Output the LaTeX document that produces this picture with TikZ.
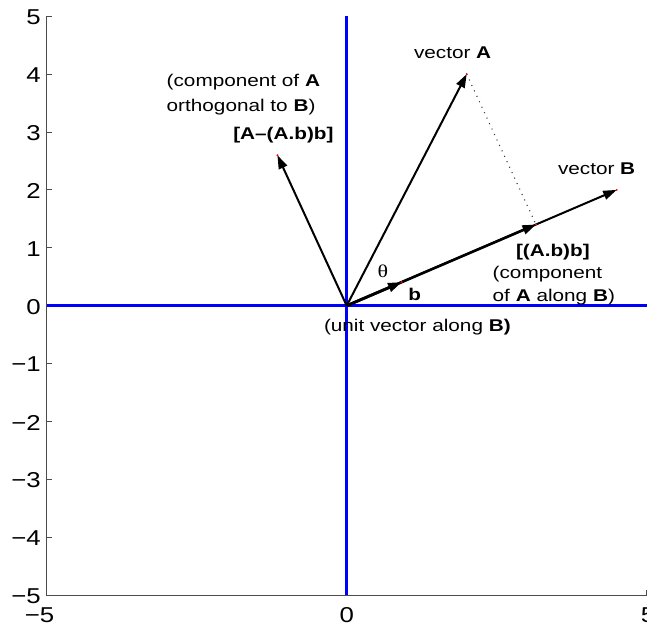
\documentclass[tikz,border=0pt]{standalone}
\usepackage{fontspec}
\setmainfont{Liberation Sans}
\newfontfamily\serifgreek{Liberation Serif}
\usetikzlibrary{arrows.meta}
\begin{document}
\begin{tikzpicture}[x=1pt,y=1pt,
  lbl/.style={inner sep=0pt, outer sep=0pt, xscale=1.22, font=\fontsize{17}{19}\selectfont},
  ticklbl/.style={inner sep=0pt, outer sep=0pt, xscale=1.2, font=\fontsize{21.5}{24}\selectfont},
  vec/.style={line width=2pt, -{Triangle[length=13.5pt,width=9pt]}},
  axisline/.style={draw=blue, line width=2.6pt},
  boxline/.style={draw=black!70, line width=0.9pt},
  tipdot/.style={circle, fill=red, inner sep=0pt, minimum size=2.2pt},
  dotline/.style={draw=black!80, line width=1.1pt, dash pattern=on 1pt off 5pt}
]
\useasboundingbox (0,0) rectangle (647,627);
\begin{scope}[shift={(346.7,321.3)}, x=60pt, y=57.9pt]
  % frame and ticks
  \draw[boxline] (-5,5) -- (-5,-5) -- (5,-5);
  \foreach \k in {-5,...,5} \draw[boxline] (-5,\k) -- ++(5pt,0);
  \foreach \k in {-5,0,5} \draw[boxline] (\k,-5) -- ++(0,5pt);
  \foreach \k/\t in {5/5,4/4,3/3,2/2,1/1,0/0,-1/−1,-2/−2,-3/−3,-4/−4,-5/−5}
    \node[ticklbl, anchor=east] (yl\k) at ([xshift=-6pt,yshift=-1pt]-5,\k) {\t};
  \node[ticklbl] (xlm) at (-5.12,-5.342) {−5};
  \node[ticklbl] (xl0) at (0,-5.342) {0};
  \node[ticklbl] (xlp) at (5.022,-5.342) {5};
  % blue axes
  \coordinate (xa1) at (-5,0); \coordinate (xa2) at (5,0);
  \coordinate (ya1) at (0,-5); \coordinate (ya2) at (0,5);
  \draw[axisline] (xa1) -- (xa2);
  \draw[axisline] (ya1) -- (ya2);
  % vectors
  \coordinate (O) at (0,0);
  \coordinate (A) at (2,4);
  \coordinate (B) at (4.5,2);
  \coordinate (P) at (3.1546,1.4021);
  \coordinate (b) at (0.9138,0.4061);
  \coordinate (Q) at (-1.1546,2.5979);
  \draw[dotline] (A) -- (P);
  \draw[vec] (O) -- (B);
  \draw[vec, line width=2.6pt] (O) -- (P);
  \draw[vec, line width=2.8pt] (O) -- (b);
  \draw[vec] (O) -- (A);
  \draw[vec] (O) -- (Q);
  \foreach \p in {A,B,P,Q,b} \node[tipdot] (d\p) at (\p) {};
\end{scope}
% labels (pixel coordinates, y upward)
\node[lbl, anchor=base west] (tA) at (414,568.7) {vector \textbf{A}};
\node[lbl, anchor=base west] (tB) at (558,452) {vector \textbf{B}};
\node[lbl, anchor=base west] (tP1) at (516,370.3) {\textbf{[(A.b)b]}};
\node[lbl, anchor=base west] (tP2) at (492.7,348) {(component};
\node[lbl, anchor=base west] (tP3) at (492.7,325.3) {of \textbf{A} along \textbf{B})};
\node[lbl, anchor=base west] (tU) at (324,295.3) {(unit vector along \textbf{B)}};
\node[lbl, anchor=base west] (tQ1) at (166.7,540.3) {(component of \textbf{A}};
\node[lbl, anchor=base west] (tQ2) at (166.7,515.3) {orthogonal to \textbf{B})};
\node[lbl, anchor=base west] (tQ3) at (233.3,487) {\textbf{[A–(A.b)b]}};
\node[lbl, font=\serifgreek\fontsize{18}{20}\selectfont] (th) at (383,355.3) {θ};
\node[lbl, anchor=base west] (tb) at (408.3,326.3) {\textbf{b}};
\end{tikzpicture}
\end{document}
